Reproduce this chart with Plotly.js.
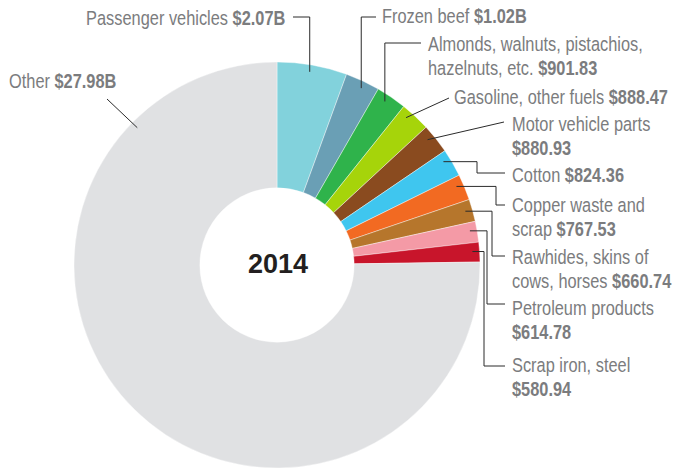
<!DOCTYPE html>
<html>
<head>
<meta charset="utf-8">
<script src="https://cdn.plot.ly/plotly-3.0.1.min.js"></script>
<style>html,body{margin:0;padding:0;background:#fff;}#chart{width:674px;height:469px;}</style>
</head>
<body>
<div id="chart"></div>
<script>
// ---- data ----
const categories = ['Passenger vehicles', 'Frozen beef', 'Almonds, walnuts, pistachios,<br>hazelnuts, etc.', 'Gasoline, other fuels', 'Motor vehicle parts<br>', 'Cotton', 'Copper waste and<br>scrap', 'Rawhides, skins of<br>cows, horses', 'Petroleum products<br>', 'Scrap iron, steel<br>', 'Other'];
const values = [2070, 1020, 901.83, 888.47, 880.93, 824.36, 767.53, 660.74, 614.78, 580.94, 27980]; // millions of dollars
const valueLabels = ['$2.07B', '$1.02B', '$901.83', '$888.47', '$880.93', '$824.36', '$767.53', '$660.74', '$614.78', '$580.94', '$27.98B'];
const colors = ['#82d2dc', '#6a9fb5', '#2fb34b', '#a6d40a', '#8a4b1f', '#3fc6ef', '#f26a22', '#b6762c', '#f49aa6', '#c8152b', '#e0e1e3'];
const centerTitle = '2014';

// ---- layout helpers (pixels) ----
const W = 674, H = 469;
const cx = 277, cy = 265, R = 203;
const px = x => x / W;
const py = y => 1 - y / H;
const LINE_H = 23.5;
const FONT_SIZE = 19.5;
const SQUEEZE = 0.84;

const labelPos = [
  {x: 287, y: 18, align: 'right'},
  {x: 380, y: 16, align: 'left'},
  {x: 426, y: 44, align: 'left'},
  {x: 452, y: 97, align: 'left'},
  {x: 510, y: 124, align: 'left'},
  {x: 510, y: 175, align: 'left'},
  {x: 510, y: 205, align: 'left'},
  {x: 510, y: 257, align: 'left'},
  {x: 510, y: 308, align: 'left'},
  {x: 510, y: 365, align: 'left'},
  {x: 7, y: 81, align: 'left'}
];
const anchorFrac = [0.48, 0.55, 0.4, 0.3, 0.35, 0.3, 0.35, 0.45, 0.4, 0.45, 0.832];
const routes = [
  {type: 'vup', y: 17, endX: 293},
  {type: 'vup', y: 17, endX: 376},
  {type: 'vup', y: 43, endX: 421},
  {type: 'diag', x: 449, y: 98},
  {type: 'diag', x: 504, y: 122},
  {type: 'elbow', x: 477, y: 173, endX: 505},
  {type: 'elbow', x: 496, y: 205, endX: 505},
  {type: 'elbow', x: 492, y: 256, endX: 505},
  {type: 'elbow', x: 487, y: 304, endX: 505},
  {type: 'elbow', x: 484, y: 366, endX: 505},
  {type: 'diag', x: 107, y: 99}
];

const total = values.reduce((a, b) => a + b, 0);
let cum = 0;
const shapes = [];
const annotations = [];
const annAlign = [];
const lineStyle = {color: '#2b2b2b', width: 1};
function seg(x0, y0, x1, y1) {
  shapes.push({type: 'line', xref: 'paper', yref: 'paper', x0: px(x0), y0: py(y0), x1: px(x1), y1: py(y1), line: lineStyle, layer: 'above'});
}
values.forEach((v, i) => {
  const start = cum / total * 360;
  const span = v / total * 360;
  cum += v;
  const ang = (start + span * anchorFrac[i]) * Math.PI / 180;
  const rA = R * 0.965;
  const ax = cx + rA * Math.sin(ang);
  const ay = cy - rA * Math.cos(ang);
  const r = routes[i];
  if (r.type === 'vup') {
    seg(ax, ay, ax, r.y);
    seg(ax, r.y, r.endX, r.y);
  } else if (r.type === 'diag') {
    seg(ax, ay, r.x, r.y);
  } else {
    seg(ax, ay, r.x, ay);
    seg(r.x, ay, r.x, r.y);
    seg(r.x, r.y, r.endX, r.y);
  }
  const name = categories[i];
  const full = name.endsWith('<br>') ? name + '<b>' + valueLabels[i] + '</b>' : name + ' <b>' + valueLabels[i] + '</b>';
  const lines = full.split('<br>');
  const lp = labelPos[i];
  lines.forEach((ln, k) => {
    annotations.push({
      xref: 'paper', yref: 'paper', x: px(lp.x), y: py(lp.y + k * LINE_H),
      xanchor: lp.align, yanchor: 'middle', align: lp.align,
      text: ln, showarrow: false,
      font: {family: '"Liberation Sans", Arial, sans-serif', size: FONT_SIZE, color: '#7b7c7e'}
    });
    annAlign.push(lp.align);
  });
});
annotations.push({
  xref: 'paper', yref: 'paper', x: px(cx + 1), y: py(cy - 1), xanchor: 'center', yanchor: 'middle',
  text: '<b>' + centerTitle + '</b>', showarrow: false,
  font: {family: '"Liberation Sans", Arial, sans-serif', size: 27, color: '#231f20'}
});
annAlign.push(null);

const trace = {
  type: 'pie',
  labels: categories,
  values: values,
  sort: false,
  direction: 'clockwise',
  rotation: 0,
  hole: 0.38,
  textinfo: 'none',
  hoverinfo: 'label+value',
  marker: {colors: colors, line: {color: '#ffffff', width: 0.4}},
  domain: {x: [px(cx - R), px(cx + R)], y: [py(cy + R), py(cy - R)]},
  showlegend: false
};

Plotly.newPlot('chart', [trace], {
  width: W, height: H,
  margin: {l: 0, r: 0, t: 0, b: 0},
  paper_bgcolor: '#ffffff',
  showlegend: false,
  shapes: shapes,
  annotations: annotations
}, {displayModeBar: false, staticPlot: true}).then(gd => {
  // emulate the condensed typeface of the original by narrowing label text horizontally
  gd.querySelectorAll('g.annotation').forEach(g => {
    const idx = +g.getAttribute('data-index');
    const align = annAlign[idx];
    if (!align) return;
    const t = g.querySelector('text.annotation-text');
    if (!t) return;
    const bb = t.getBBox();
    const o = align === 'right' ? bb.x + bb.width : bb.x;
    t.setAttribute('transform', `translate(${o},0) scale(${SQUEEZE},1) translate(${-o},0)`);
  });
});
</script>
</body>
</html>
